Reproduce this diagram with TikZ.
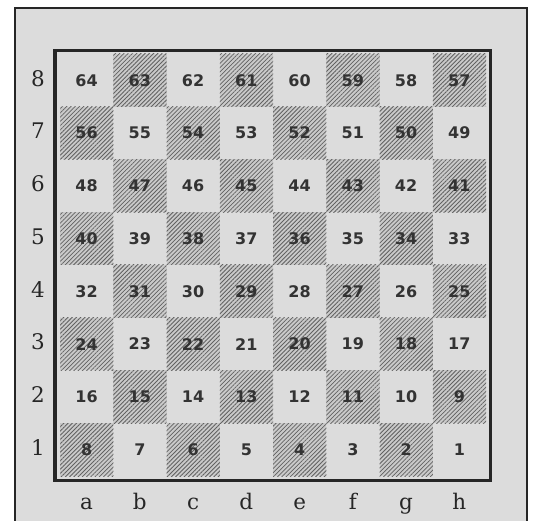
\documentclass[tikz,border=0pt]{standalone}
\usepackage{fontspec}
\setmainfont{DejaVu Serif}
\newfontfamily\numfont{DejaVu Sans}
\usetikzlibrary{patterns.meta}

\definecolor{boardgray}{HTML}{DCDCDC}
\definecolor{hatchgray}{HTML}{CACACA}
\definecolor{inkgray}{HTML}{333333}

\tikzset{
  square/.style={minimum width=53.25pt, minimum height=52.75pt, inner sep=0pt,
    font=\numfont\bfseries\fontsize{16}{16}\selectfont, text=inkgray},
  darksquare/.style={square, fill=hatchgray,
    postaction={pattern={Lines[angle=45, distance=3pt, line width=0.8pt]}, pattern color=black!62}},
  coordlabel/.style={font=\fontsize{21.5}{21.5}\selectfont, text=black!85},
}

\begin{document}
\begin{tikzpicture}[x=1pt, y=-1pt]
        \useasboundingbox (0,0) rectangle (533,521);
        % page and frame
        \fill[white] (0,0) rectangle (533,521);
        \fill[boardgray] (15,8) rectangle (527,521);
        \draw[line width=2pt, black!85] (15,521) -- (15,8) -- (527,8) -- (527,521);

        % the 64 squares, numbered from h1 = 1 to a8 = 64
        \foreach \r in {1,...,8} {
            \foreach \c in {1,...,8} {
                \pgfmathtruncatemacro{\num}{8*(\r-1)+9-\c}
                \pgfmathtruncatemacro{\dark}{mod(\r+\c,2)}
                \ifnum\dark=0
                    \node[darksquare] (sq-\c-\r) at ({60+(\c-0.5)*53.25}, {476-(\r-0.5)*52.75}) {\num};
                \else
                    \node[square] (sq-\c-\r) at ({60+(\c-0.5)*53.25}, {476-(\r-0.5)*52.75}) {\num};
                \fi
            }
        }
        \draw[line width=3.5pt, black!85] (55,50.5) rectangle (490.5,480.5);

        % ranks and files
        \foreach \r in {1,...,8}
            \node[coordlabel] (rank-\r) at (38, {476-(\r-0.5)*52.75-2}) {\r};
        \foreach \f [count=\c] in {a,b,c,d,e,f,g,h}
            \node[coordlabel, anchor=base] (file-\f) at ({60+(\c-0.5)*53.25}, 509) {\f};
\end{tikzpicture}
\end{document}
